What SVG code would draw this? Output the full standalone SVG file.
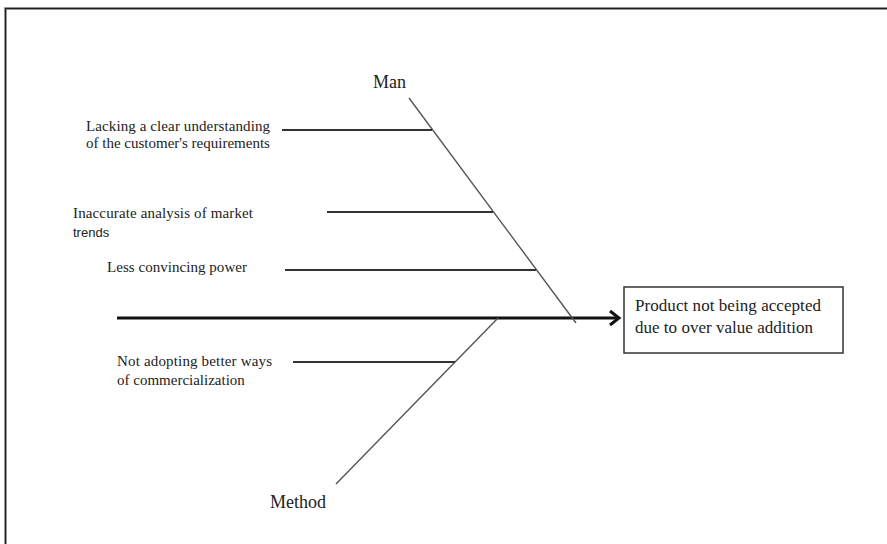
<svg xmlns="http://www.w3.org/2000/svg" width="887" height="544" viewBox="0 0 887 544">
<style>
.t{font-family:"Liberation Serif","Times New Roman",serif;fill:#222}
.s{font-size:15px}
.h{font-size:18px}
.b{font-size:17px}
.bone{stroke:#555;stroke-width:1.4;fill:none}
.br{stroke:#333;stroke-width:2;fill:none}
</style>
<rect width="887" height="544" fill="#fff"/>
<g id="frame">
<path d="M5.5,544 V8.5 H887" fill="none" stroke="#bbb" stroke-width="3"/>
<path d="M5.5,544 V8.5 H887" fill="none" stroke="#222" stroke-width="1.5"/>
</g>
<g id="connectors">
<line x1="117" y1="318" x2="619" y2="318" stroke="#111" stroke-width="3"/>
<polyline points="610,311 619,318 610,325" fill="none" stroke="#111" stroke-width="3"/>
<line class="bone" x1="409" y1="98" x2="576" y2="323"/>
<line class="bone" x1="498" y1="318" x2="336" y2="484"/>
<line class="br" x1="282" y1="130" x2="432" y2="130"/>
<line class="br" x1="327" y1="212" x2="493" y2="212"/>
<line class="br" x1="285" y1="270" x2="536" y2="270"/>
<line class="br" x1="293" y1="362" x2="455" y2="362"/>
</g>
<g id="man"><text class="t h" x="373" y="88">Man</text></g>
<g id="method"><text class="t h" x="270" y="508">Method</text></g>
<g id="cause1"><text class="t s" x="86" y="131" textLength="184">Lacking a clear understanding</text><text class="t s" x="86" y="148">of the customer's requirements</text></g>
<g id="cause2"><text class="t s" x="73" y="218" textLength="180">Inaccurate analysis of market</text><text x="73" y="237" font-family="Liberation Sans, Arial, sans-serif" font-size="13" fill="#222">trends</text></g>
<g id="cause3"><text class="t s" x="107" y="272" textLength="140">Less convincing power</text></g>
<g id="cause4"><text class="t s" x="117" y="366" textLength="155">Not adopting better ways</text><text class="t s" x="117" y="385">of commercialization</text></g>
<g id="effect">
<rect x="624" y="287" width="219" height="66" fill="#fff" stroke="#333" stroke-width="1.5"/>
<text class="t b" x="635" y="311" textLength="186">Product not being accepted</text>
<text class="t b" x="635" y="333" textLength="178">due to over value addition</text>
</g>
</svg>
